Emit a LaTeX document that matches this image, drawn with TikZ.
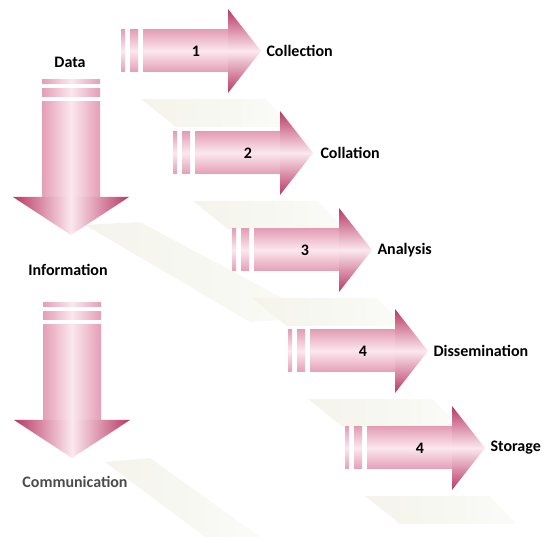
\documentclass[tikz,border=0pt]{standalone}
\usepackage{fontspec}
\setmainfont{Carlito}
\definecolor{pkedge}{RGB}{228,158,182}
\definecolor{pklight}{RGB}{251,232,238}
\definecolor{pkdark}{RGB}{185,55,100}
\definecolor{shcol}{RGB}{244,244,236}
\tikzset{
  hbar/.style={top color=pkedge, bottom color=pkedge, middle color=pklight},
  hhead/.style={top color=pkdark, bottom color=pkdark, middle color=pklight},
  vbar/.style={left color=pkedge, right color=pkedge, middle color=pklight},
  vhead/.style={left color=pkdark, right color=pkdark, middle color=pklight},
  shadowband/.style={left color=shcol, right color=white!60!shcol},
  lbl/.style={font=\fontsize{16}{19}\selectfont\bfseries, anchor=west},
  num/.style={font=\fontsize{16}{19}\selectfont\bfseries}
}
% horizontal arrow: left end of the stripes, centre line
\newcommand{\harrowshape}[2]{%
  \shade[shadowband] (#1+20,#2+48) -- (#1+145,#2+48) -- (#1+172,#2+76) -- (#1+55,#2+76) -- cycle;
  \shade[hbar] (#1,#2-21) rectangle (#1+4,#2+21);
  \shade[hbar] (#1+9,#2-21) rectangle (#1+17,#2+21);
  \shade[hbar] (#1+22,#2-21) rectangle (#1+108,#2+21);
  \shade[hhead] (#1+107,#2-42) -- (#1+140,#2) -- (#1+107,#2+42) -- cycle;
}
% vertical arrow: centre line, top of the stripes
\newcommand{\varrowshape}[2]{%
  \shade[vbar] (#1-29,#2) rectangle (#1+29,#2+4);
  \shade[vbar] (#1-29,#2+9) rectangle (#1+29,#2+17);
  \shade[vbar] (#1-29,#2+22) rectangle (#1+29,#2+118);
  \shade[vhead] (#1-58,#2+117) -- (#1+58,#2+117) -- (#1,#2+155) -- cycle;
}

\begin{document}
\begin{tikzpicture}[x=1pt,y=-1pt]
  \useasboundingbox (0,0) rectangle (547,537);

  % faint bands behind the down arrows
  \shade[shadowband] (85,225) -- (140,222) -- (320,318) -- (250,322) -- cycle;
  \shade[shadowband] (105,462) -- (150,458) -- (260,537) -- (205,537) -- cycle;

  \varrowshape{71}{80}
  \varrowshape{72}{303}

  \harrowshape{121}{51}
  \harrowshape{173}{153}
  \harrowshape{232}{250}
  \harrowshape{288}{351}
  \harrowshape{345}{448}

  \node[num] (data) at (70,62) {Data};
  \node[num] (info) at (68,270) {Information};
  \node[num, text=black!70] (comm) at (75,482) {Communication};

  \node[num] (n1) at (196,51) {1};
  \node[num] (n2) at (248,153) {2};
  \node[num] (n3) at (305,250) {3};
  \node[num] (n4) at (363,351) {4};
  \node[num] (n5) at (420,448) {4};

  \node[lbl] (l1) at (263,51) {Collection};
  \node[lbl] (l2) at (317,153) {Collation};
  \node[lbl] (l3) at (374,250) {Analysis};
  \node[lbl] (l4) at (430,351) {Dissemination};
  \node[lbl] (l5) at (487,448) {Storage};

\end{tikzpicture}
\end{document}
